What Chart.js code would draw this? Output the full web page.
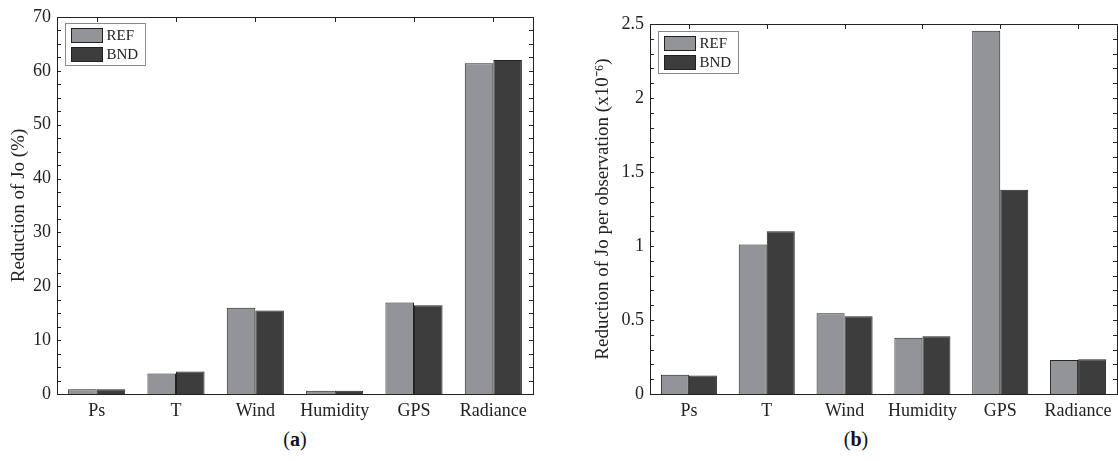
<!DOCTYPE html>
<html><head><meta charset="utf-8">
<script src="https://cdn.jsdelivr.net/npm/chart.js@4"></script>
<style>
body{margin:0;background:#fff;width:1118px;height:461px;overflow:hidden;position:relative;font-family:"Liberation Serif",serif;}
.wrap{position:absolute;top:0;}
.cap{position:absolute;top:428px;font-size:20px;font-family:"Liberation Serif",serif;color:#111;transform:translateX(-50%);white-space:nowrap;}
</style></head><body>
<div class="wrap" style="left:0;"><canvas id="c1" width="545" height="422"></canvas></div>
<div class="wrap" style="left:560px;"><canvas id="c2" width="558" height="422"></canvas></div>
<div class="cap" style="left:295px">(<b>a</b>)</div>
<div class="cap" style="left:856px">(<b>b</b>)</div>
<script>
const categories = ["Ps","T","Wind","Humidity","GPS","Radiance"];
const seriesNames = ["REF","BND"];
const seriesColors = ["#939498","#3d3d3d"];
const joReductionPctREF = [0.9, 3.8, 16.0, 0.6, 17.0, 61.4];
const joReductionPctBND = [0.9, 4.2, 15.5, 0.6, 16.5, 62.0];
const joPerObsREF = [0.13, 1.01, 0.545, 0.38, 2.455, 0.23];
const joPerObsBND = [0.125, 1.10, 0.525, 0.39, 1.38, 0.235];
const yTicksA = [0,10,20,30,40,50,60,70];
const yTicksB = [0,0.5,1,1.5,2,2.5];
const minorStepA = 2.5, minorStepB = 0.1;

const FONT = "'Liberation Serif', serif";

const framePlugin = {
  id: 'frame',
  afterDatasetsDraw(chart, args, opts) {
    const {ctx, chartArea: a, scales} = chart;
    ctx.save();
    ctx.strokeStyle = '#222';
    ctx.lineWidth = 1;
    ctx.strokeRect(Math.round(a.left)+0.5, Math.round(a.top)+0.5, Math.round(a.right-a.left), Math.round(a.bottom-a.top));
    const y = scales.y;
    const step = opts.minor;
    const n = Math.round((y.max - y.min) / step);
    for (let k = 0; k <= n; k++) {
      const v = y.min + k * step;
      const py = Math.round(y.getPixelForValue(v)) + 0.5;
      ctx.beginPath();
      ctx.moveTo(a.left, py); ctx.lineTo(a.left + 4, py);
      ctx.moveTo(a.right, py); ctx.lineTo(a.right - 4, py);
      ctx.stroke();
    }
    const x = scales.x;
    for (let i = 0; i < chart.data.labels.length; i++) {
      const px = Math.round(x.getPixelForValue(i)) + 0.5;
      ctx.beginPath();
      ctx.moveTo(px, a.top); ctx.lineTo(px, a.top + 5);
      ctx.stroke();
    }
    // legend
    const bx = Math.round(a.left + 8) + 0.5, by = Math.round(a.top + opts.legTop) + 0.5;
    const bw = 80, bh = 42;
    ctx.fillStyle = '#fff';
    ctx.fillRect(bx, by, bw, bh);
    ctx.strokeStyle = '#888';
    ctx.strokeRect(bx, by, bw, bh);
    ctx.font = "15px " + FONT;
    ctx.textBaseline = 'middle';
    chart.data.datasets.forEach((ds, i) => {
      const sy = by + 5 + i * 19;
      ctx.fillStyle = ds.backgroundColor;
      ctx.fillRect(bx + 6, sy, 31, 14);
      ctx.strokeStyle = '#222';
      ctx.strokeRect(bx + 6, sy, 31, 14);
      ctx.fillStyle = '#222';
      ctx.fillText(ds.label, bx + 41, sy + 8);
    });
    ctx.restore();
  }
};

function makeChart(id, ref, bnd, ticks, minor, yTitle, yWidth, padTop, padRight, titlePad, legTop) {
  return new Chart(document.getElementById(id), {
    type: 'bar',
    data: {
      labels: categories,
      datasets: [
        {label: seriesNames[0], data: ref, backgroundColor: seriesColors[0], borderColor: '#222', borderWidth: 1},
        {label: seriesNames[1], data: bnd, backgroundColor: seriesColors[1], borderColor: '#222', borderWidth: 1}
      ]
    },
    options: {
      responsive: false,
      animation: false,
      layout: {padding: {top: padTop, right: padRight, left: 0, bottom: 0}},
      datasets: {bar: {categoryPercentage: 0.72, barPercentage: 1.0}},
      plugins: {legend: {display: false}, tooltip: {enabled: false}, frame: {minor: minor, legTop: legTop}},
      scales: {
        x: {
          grid: {display: false, drawTicks: false},
          border: {display: false},
          ticks: {font: {family: FONT, size: 18}, color: '#222', padding: 6, maxRotation: 0},
          afterFit: s => { s.height = 28; }
        },
        y: {
          min: ticks[0], max: ticks[ticks.length - 1],
          grid: {display: false, drawTicks: false},
          border: {display: false},
          ticks: {font: {family: FONT, size: 18}, color: '#222', padding: 6, callback: v => String(v)},
          afterBuildTicks: s => { s.ticks = ticks.map(v => ({value: v})); },
          title: {display: true, text: yTitle, font: {family: FONT, size: 19}, color: '#222', padding: {top: titlePad, bottom: 0}},
          afterFit: s => { s.width = yWidth; }
        }
      }
    },
    plugins: [framePlugin]
  });
}

makeChart('c1', joReductionPctREF, joReductionPctBND, yTicksA, minorStepA, 'Reduction of Jo (%)', 57, 17, 12, 8, 6);
makeChart('c2', joPerObsREF, joPerObsBND, yTicksB, minorStepB, 'Reduction of Jo per observation (x10\u207B\u2076)', 90, 24, 1, 32, 7);
</script>
</body></html>
